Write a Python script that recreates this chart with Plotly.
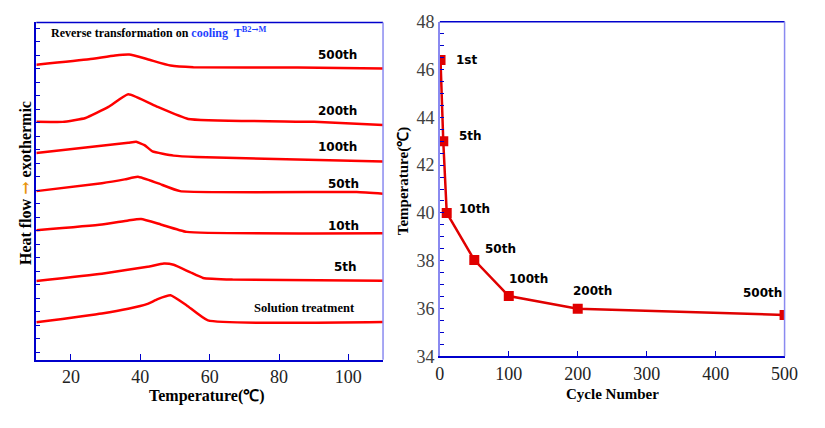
import plotly.graph_objects as go

# ---------------- Left panel data (DSC curves, arbitrary offset units) ----------------
t_500 = [10, 25.2, 32.7, 36.8, 42.1, 48.7, 55.3, 85.4, 110]
h_500 = [21.87, 22.27, 22.55, 22.62, 22.27, 21.80, 21.68, 21.66, 21.59]

t_200 = [10, 17.6, 24.2, 30.8, 36.5, 45.0, 53.8, 90.1, 110]
h_200 = [17.63, 17.63, 17.92, 18.74, 19.68, 18.74, 17.85, 17.63, 17.39]

t_100 = [10, 36.5, 38.8, 41.2, 43.5, 49.6, 56.2, 110]
h_100 = [15.32, 16.08, 16.15, 15.91, 15.44, 15.13, 15.02, 14.69]

t_50 = [10, 28.9, 35.5, 39.3, 45.0, 51.5, 102.4, 110]
h_50 = [12.50, 13.09, 13.37, 13.56, 13.09, 12.50, 12.43, 12.31]

t_10 = [10, 28.9, 36.5, 40.2, 45.9, 53.4, 110]
h_10 = [9.60, 10.03, 10.33, 10.43, 10.03, 9.48, 9.37]

t_5 = [10, 28.9, 42.1, 46.8, 49.6, 54.3, 58.1, 66.6, 110]
h_5 = [5.84, 6.38, 6.90, 7.13, 7.04, 6.50, 6.07, 5.95, 5.86]

t_sol = [10, 28.9, 36.5, 42.1, 45.0, 48.7, 53.4, 59.5, 110]
h_sol = [2.78, 3.44, 3.79, 4.15, 4.50, 4.78, 4.03, 2.92, 2.80]

curve_labels = ["500th", "200th", "100th", "50th", "10th", "5th", "Solution treatment"]

# ---------------- Right panel data ----------------
cycles = [1, 5, 10, 50, 100, 200, 500]
temps = [46.4, 43.0, 40.0, 38.03, 36.52, 35.99, 35.73]
cycle_labels = ["1st", "5th", "10th", "50th", "100th", "200th", "500th"]

left_xticks = [20, 40, 60, 80, 100]
right_xticks = [0, 100, 200, 300, 400, 500]
right_yticks = [34, 36, 38, 40, 42, 44, 46, 48]

RED = "#ff0000"
DRED = "#e00000"
BLUE = "#0000cc"
LBLUE = "#8a8af0"
SERIF = "Liberation Serif, Times New Roman, serif"
SANS = "DejaVu Sans, Verdana, sans-serif"
ARROWFONT = "DejaVu Serif"

fig = go.Figure()

curves = [(t_500, h_500), (t_200, h_200), (t_100, h_100), (t_50, h_50),
          (t_10, h_10), (t_5, h_5), (t_sol, h_sol)]
for (tx, hy) in curves:
    fig.add_trace(go.Scatter(x=tx, y=hy, mode="lines",
                             line=dict(color=RED, width=2.5, shape="spline", smoothing=0.4),
                             xaxis="x", yaxis="y", showlegend=False, hoverinfo="skip"))

fig.add_trace(go.Scatter(x=cycles, y=temps, mode="lines+markers",
                         line=dict(color=DRED, width=2.5),
                         marker=dict(symbol="square", size=10, color=DRED),
                         xaxis="x2", yaxis="y2", showlegend=False))

# label positions (style): left in data coords, right as pixel shifts
left_label_pos = [(97.0, 22.62), (97.0, 18.43), (97.0, 15.75), (98.7, 13.04),
                  (98.7, 9.91), (99.3, 6.85), (87.4, 3.83)]
annotations = []
for lab, (lx, ly) in zip(curve_labels, left_label_pos):
    if lab == "Solution treatment":
        fnt = dict(family=SERIF, size=12.5, color="black")
    else:
        fnt = dict(family=SANS, size=12, color="black")
    annotations.append(dict(x=lx, y=ly, xref="x", yref="y", text="<b>" + lab + "</b>", showarrow=False,
                            font=fnt, xanchor="center", yanchor="middle"))

right_shifts = [(26, 0), (27, 5), (28, 4), (26, 11), (20, 17), (15, 18), (-22, 22)]
for lab, cx, ty, (sx, sy) in zip(cycle_labels, cycles, temps, right_shifts):
    annotations.append(dict(x=cx, y=ty, xref="x2", yref="y2", text="<b>" + lab + "</b>",
                            showarrow=False, font=dict(family=SANS, size=12, color="black"),
                            xshift=sx, yshift=sy, xanchor="center", yanchor="middle"))

W, H = 825, 428
def px(x):
    return x / W
def py(y):
    return 1 - y / H

annotations += [
    dict(x=px(46), y=py(23.5), xref="paper", yref="paper", xanchor="left", yanchor="middle",
         showarrow=False,
         text=("<b>Reverse transformation on <span style='color:#1f3fff'>cooling  T<sup>B2"
               "<span style='font-family:DejaVu Serif'>\u2192</span>M</sup></span></b>"),
         font=dict(family=SERIF, size=12, color="black")),
    dict(x=px(22), y=py(182), xref="paper", yref="paper", textangle=-90, showarrow=False,
         text=("<b>Heat flow <span style='color:#e8940a;font-family:DejaVu Serif'>\u2192</span>"
               " exothermic</b>"),
         font=dict(family=SERIF, size=16, color="black"), xanchor="center", yanchor="middle"),
    dict(x=px(207), y=py(405), xref="paper", yref="paper", showarrow=False,
         text="<b>Temperature(\u2103)</b>", font=dict(family=SERIF, size=16, color="black"),
         xanchor="center", yanchor="middle"),
    dict(x=px(408), y=py(180), xref="paper", yref="paper", textangle=-90, showarrow=False,
         text="<b>Temperature(\u2103)</b>", font=dict(family=SERIF, size=15, color="black"),
         xanchor="center", yanchor="middle"),
    dict(x=px(621), y=py(403), xref="paper", yref="paper", showarrow=False,
         text="<b>Cycle Number</b>", font=dict(family=SERIF, size=15, color="black"),
         xanchor="center", yanchor="middle"),
]

LX0, LX1 = px(33), px(387)
LY0, LY1 = py(367), py(13)
RX0, RX1 = px(445), px(797)
RY0, RY1 = py(363.3), py(12.3)

shapes = [
    dict(type="line", xref="paper", yref="paper", x0=LX0, x1=LX1, y0=LY1, y1=LY1, line=dict(color=BLUE, width=1.5)),
    dict(type="line", xref="paper", yref="paper", x0=LX1, x1=LX1, y0=LY0, y1=LY1, line=dict(color=LBLUE, width=1.5)),
    dict(type="line", xref="paper", yref="paper", x0=RX0, x1=RX1, y0=RY1, y1=RY1, line=dict(color=BLUE, width=1.5)),
    dict(type="line", xref="paper", yref="paper", x0=RX1, x1=RX1, y0=RY0, y1=RY1, line=dict(color=LBLUE, width=1.5)),
]

tickfont = dict(family=SERIF, size=18, color="#222222")

fig.update_layout(
    width=W, height=H, margin=dict(l=0, r=0, t=0, b=0),
    paper_bgcolor="white", plot_bgcolor="white",
    annotations=annotations, shapes=shapes,
    xaxis=dict(domain=[LX0, LX1], range=[10, 110], tickvals=left_xticks, ticks="inside", ticklen=6,
               tickcolor=BLUE, showline=True, linecolor=BLUE, linewidth=1.5, showgrid=False,
               zeroline=False, tickfont=tickfont, anchor="y"),
    yaxis=dict(domain=[LY0, LY1], range=[0, 25], tick0=0.55, dtick=1, ticks="inside", ticklen=4,
               tickcolor=BLUE, showticklabels=False, showline=True, linecolor=BLUE, linewidth=1.5,
               showgrid=False, zeroline=False, anchor="x"),
    xaxis2=dict(domain=[RX0, RX1], range=[0, 500], tickvals=right_xticks, ticks="inside", ticklen=6,
                tickcolor=BLUE, showline=True, linecolor=BLUE, linewidth=1.5, showgrid=False,
                zeroline=False, tickfont=tickfont, anchor="y2"),
    yaxis2=dict(domain=[RY0, RY1], range=[34, 48], tickvals=right_yticks, ticks="inside", ticklen=4,
                tickcolor=BLUE, showline=True, linecolor=LBLUE, linewidth=1.5, showgrid=False,
                zeroline=False, tickfont=dict(family=SERIF, size=18, color="#404040"), anchor="x2",
                minor=dict(dtick=0.5, ticks="inside", ticklen=4, tickcolor=BLUE, showgrid=False)),
)

fig.write_html("out.html")
